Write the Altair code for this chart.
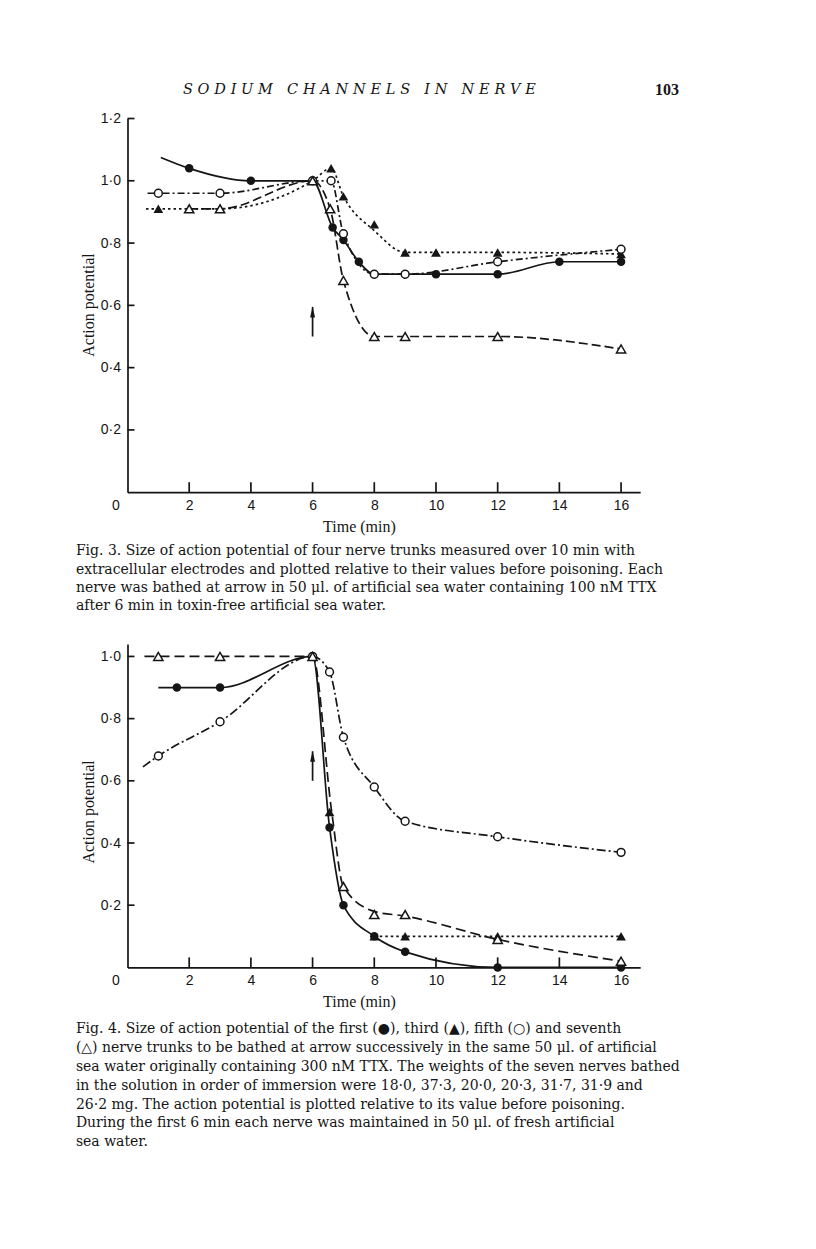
import altair as alt
import pandas as pd

INK = "#151515"

# ---------------- page header ----------------
HEADER_TITLE = "SODIUM CHANNELS IN NERVE"
PAGE_NUMBER = "103"

# ---------------- Fig. 3 ----------------
F3_X_TICKS = [0, 2, 4, 6, 8, 10, 12, 14, 16]
F3_Y_TICKS = [0.2, 0.4, 0.6, 0.8, 1.0, 1.2]
F3_X_MAX = 16.62
F3_Y_MAX = 1.2

# filled circles, solid line
F3_FC_X = [2, 4, 6, 6.65, 7, 7.5, 8, 9, 10, 12, 14, 16]
F3_FC_Y = [1.04, 1.00, 1.00, 0.85, 0.81, 0.74, 0.70, 0.70, 0.70, 0.70, 0.74, 0.74]
F3_FC_LINE_X = [1.08, 2, 4, 6, 6.65, 7, 7.5, 8, 9, 10, 12, 14, 16]
F3_FC_LINE_Y = [1.075, 1.04, 1.00, 1.00, 0.85, 0.81, 0.74, 0.70, 0.70, 0.70, 0.70, 0.74, 0.74]
# open circles, dash-dot line
F3_OC_X = [1, 3, 6, 6.6, 7, 8, 9, 12, 16]
F3_OC_Y = [0.96, 0.96, 1.00, 1.00, 0.83, 0.70, 0.70, 0.74, 0.78]
F3_OC_LINE_X = [0.65, 1, 3, 6, 6.6, 7, 8, 9, 12, 16]
F3_OC_LINE_Y = [0.96, 0.96, 0.96, 1.00, 1.00, 0.83, 0.70, 0.70, 0.74, 0.78]
# filled triangles, dotted line
F3_FT_X = [1, 3, 6, 6.6, 7, 8, 9, 10, 12, 16]
F3_FT_Y = [0.91, 0.91, 1.00, 1.04, 0.95, 0.86, 0.77, 0.77, 0.77, 0.765]
F3_FT_LINE_X = [0.6, 1, 3, 6, 6.6, 7, 8, 9, 10, 12, 16]
F3_FT_LINE_Y = [0.91, 0.91, 0.91, 1.00, 1.04, 0.95, 0.84, 0.77, 0.77, 0.77, 0.765]
# open triangles, dashed line
F3_OT_X = [2, 3, 6, 6.57, 7, 8, 9, 12, 16]
F3_OT_Y = [0.91, 0.91, 1.00, 0.91, 0.68, 0.50, 0.50, 0.50, 0.46]
F3_OT_LINE_X = [2, 3, 6, 6.57, 7, 8, 9, 12, 16]
F3_OT_LINE_Y = [0.91, 0.91, 1.00, 0.91, 0.68, 0.50, 0.50, 0.50, 0.46]
# arrow (time of poisoning)
F3_ARROW = {"x": 6, "y0": 0.50, "y1": 0.595}

F3_CAPTION = [
    "Fig. 3.  Size of action potential of four nerve trunks measured over 10 min with",
    "extracellular electrodes and plotted relative to their values before poisoning. Each",
    "nerve was bathed at arrow in 50 \u03bcl. of artificial sea water containing 100 nM TTX",
    "after 6 min in toxin-free artificial sea water.",
]

# ---------------- Fig. 4 ----------------
F4_X_TICKS = [0, 2, 4, 6, 8, 10, 12, 14, 16]
F4_Y_TICKS = [0.2, 0.4, 0.6, 0.8, 1.0]
F4_X_MAX = 16.62
F4_Y_MAX = 1.04

# first nerve: filled circles, solid
F4_FC_X = [1.6, 3, 6, 6.55, 7, 8, 9, 12, 16]
F4_FC_Y = [0.90, 0.90, 1.00, 0.45, 0.20, 0.10, 0.05, 0.0, 0.0]
F4_FC_LINE_X = [1.0, 1.6, 3, 6, 6.55, 7, 8, 9, 12, 16]
F4_FC_LINE_Y = [0.90, 0.90, 0.90, 1.00, 0.45, 0.20, 0.10, 0.05, 0.0, 0.0]
# third nerve: filled triangles, dotted
F4_FT_X = [6, 6.55, 8, 9, 12, 16]
F4_FT_Y = [1.00, 0.50, 0.10, 0.10, 0.10, 0.10]
F4_FT_LINE_X = [8, 9, 12, 16]
F4_FT_LINE_Y = [0.10, 0.10, 0.10, 0.10]
# fifth nerve: open circles, dash-dot
F4_OC_X = [1, 3, 6, 6.55, 7, 8, 9, 12, 16]
F4_OC_Y = [0.68, 0.79, 1.00, 0.95, 0.74, 0.58, 0.47, 0.42, 0.37]
F4_OC_LINE_X = [0.5, 1, 3, 6, 6.55, 7, 8, 9, 12, 16]
F4_OC_LINE_Y = [0.645, 0.68, 0.79, 1.00, 0.95, 0.74, 0.58, 0.47, 0.42, 0.37]
# seventh nerve: open triangles, dashed
F4_OT_X = [1, 3, 6, 7, 8, 9, 12, 16]
F4_OT_Y = [1.00, 1.00, 1.00, 0.26, 0.17, 0.17, 0.09, 0.02]
F4_OT_LINE_X = [0.55, 1, 3, 6, 6.62, 7, 8, 9, 12, 16]
F4_OT_LINE_Y = [1.00, 1.00, 1.00, 1.00, 0.50, 0.26, 0.18, 0.165, 0.09, 0.02]
F4_ARROW = {"x": 6, "y0": 0.60, "y1": 0.695}

F4_CAPTION = [
    "Fig. 4.   Size of action potential of the first (\u25cf), third (\u25b2), fifth (\u25cb) and seventh",
    "(\u25b3) nerve trunks to be bathed at arrow successively in the same 50 \u03bcl. of artificial",
    "sea water originally containing 300 nM TTX. The weights of the seven nerves bathed",
    "in the solution in order of immersion were 18\u00b70, 37\u00b73, 20\u00b70, 20\u00b73, 31\u00b77, 31\u00b79 and",
    "26\u00b72 mg. The action potential is plotted relative to its value before poisoning.",
    "During the first 6 min each nerve was maintained in 50 \u03bcl. of fresh artificial",
    "sea water.",
]

# ---------------- layout constants ----------------
PLOT_W = 512.7
F3_H = 373.7
F4_H = 323.4
CAP_X = -51.6
SERIF = "DejaVu Serif"
AXSERIF = "Liberation Serif"
SANS = "Liberation Sans"
ARROW_PATH = "M0,-1L0.45,1L-0.45,1Z"
LINE_W = 1.7

STYLE = {
    "fc": dict(shape="circle", open=False, size=72),
    "oc": dict(shape="circle", open=True, size=62),
    "ft": dict(shape="triangle-up", open=False, size=95),
    "ot": dict(shape="triangle-up", open=True, size=85),
}

NO_FRAME = alt.ViewBackground(strokeOpacity=0, strokeWidth=0)


def make_figure(series, arrow, x_ticks, y_ticks, x_max, y_max, height,
                y_title_y, caption, cap_top, cap_step, header=False):
    xscale = alt.Scale(domain=[0, x_max], nice=False, zero=False)
    yscale = alt.Scale(domain=[0, y_max], nice=False, zero=False)
    xaxis = alt.Axis(
        values=x_ticks, ticks=False, tickSize=0, grid=False,
        domainColor=INK, domainWidth=1.7,
        labelFont=SANS, labelFontSize=14, labelColor=INK, labelPadding=6,
        labelFlush=False, labelOverlap=False,
        labelOffset={"condition": {"test": "datum.value === 0", "value": -12}, "value": 0},
        title="Time (min)", titleFont=AXSERIF, titleFontSize=16,
        titleFontWeight="normal", titleColor=INK,
        titleX=231.4, titleY=34.3, titleBaseline="middle",
    )
    yaxis = alt.Axis(
        values=y_ticks, ticks=False, tickSize=0, grid=False,
        domainColor=INK, domainWidth=1.7,
        labelFont=SANS, labelFontSize=14, labelColor=INK, labelPadding=7,
        labelFlush=False, labelOverlap=False,
        labelExpr="replace(format(datum.value, '.1f'), '.', '\u00b7')",
        title="Action potential", titleFont=AXSERIF, titleFontSize=16,
        titleFontWeight="normal", titleColor=INK,
        titleX=-38.6, titleY=y_title_y, titleAngle=-90, titleBaseline="middle",
        titleAlign="center",
    )
    X = lambda f="x": alt.X(f"{f}:Q", scale=xscale, axis=xaxis)
    Y = lambda f="y": alt.Y(f"{f}:Q", scale=yscale, axis=yaxis)

    layers = []
    # inward tick marks
    xt = pd.DataFrame({"x": [v for v in x_ticks if v != 0]})
    layers.append(alt.Chart(xt).mark_rule(color=INK, strokeWidth=1.7).encode(
        x=X(), y=alt.value(height), y2=alt.value(height - 10)))
    yt = pd.DataFrame({"y": y_ticks})
    layers.append(alt.Chart(yt).mark_rule(color=INK, strokeWidth=1.7).encode(
        y=Y(), x=alt.value(0), x2=alt.value(7)))

    # curves
    for key, px, py, lx, ly, dash in series:
        ld = pd.DataFrame({"x": lx, "y": ly, "o": list(range(len(lx)))})
        kw = dict(interpolate="monotone", color=INK, strokeWidth=LINE_W)
        if dash:
            kw["strokeDash"] = dash
        layers.append(alt.Chart(ld).mark_line(**kw).encode(
            x=X(), y=Y(), order="o:Q"))
    # markers
    for key, px, py, lx, ly, dash in series:
        st = STYLE[key]
        pdf = pd.DataFrame({"x": px, "y": py})
        if st["open"]:
            m = alt.Chart(pdf).mark_point(shape=st["shape"], filled=True, fill="white",
                                          stroke=INK, strokeWidth=1.5, size=st["size"],
                                          opacity=1)
        else:
            m = alt.Chart(pdf).mark_point(shape=st["shape"], filled=True, fill=INK,
                                          strokeWidth=0, size=st["size"], opacity=1)
        layers.append(m.encode(x=X(), y=Y()))

    # arrow
    ad = pd.DataFrame({"x": [arrow["x"]], "y": [arrow["y0"]], "y2": [arrow["y1"]]})
    layers.append(alt.Chart(ad).mark_rule(color=INK, strokeWidth=1.7).encode(
        x=X(), y=Y(), y2="y2:Q"))
    layers.append(alt.Chart(ad).mark_point(shape=ARROW_PATH, filled=True, fill=INK,
                                           strokeWidth=0, size=120, opacity=1).encode(
        x=X(), y=Y("y2"), yOffset=alt.value(5)))

    main = alt.layer(*layers)

    n = len(caption)
    cap_df = pd.DataFrame({"i": list(range(n)), "t": caption})
    cap = alt.Chart(cap_df).mark_text(
        align="left", baseline="middle", font=SERIF, fontSize=14, color=INK
    ).encode(
        x=alt.value(CAP_X),
        y=alt.Y("i:Q", axis=None,
                scale=alt.Scale(domain=[0, n - 1], range=[cap_top, cap_top + cap_step * (n - 1)])),
        text="t:N",
    )
    parts = [main, cap]
    if header:
        spaced = "\u2004 \u2004".join("\u2004".join(w) for w in HEADER_TITLE.split())
        hd = pd.DataFrame({"t": [spaced]})
        parts.append(alt.Chart(hd).mark_text(
            align="center", baseline="middle", font=SERIF, fontSize=14.5,
            fontStyle="italic", color=INK).encode(
            x=alt.value(231.9), y=alt.value(-28.5), text="t:N"))
        pn = pd.DataFrame({"t": [PAGE_NUMBER]})
        parts.append(alt.Chart(pn).mark_text(
            align="center", baseline="middle", font=AXSERIF, fontSize=16,
            fontWeight="bold", color=INK).encode(
            x=alt.value(539.4), y=alt.value(-28.5), text="t:N"))
    return alt.layer(*parts).resolve_scale(y="independent").properties(
        width=PLOT_W, height=height, view=NO_FRAME)


F3_SERIES = [
    ("fc", F3_FC_X, F3_FC_Y, F3_FC_LINE_X, F3_FC_LINE_Y, None),
    ("ft", F3_FT_X, F3_FT_Y, F3_FT_LINE_X, F3_FT_LINE_Y, [2.5, 3]),
    ("oc", F3_OC_X, F3_OC_Y, F3_OC_LINE_X, F3_OC_LINE_Y, [7, 3, 2, 3]),
    ("ot", F3_OT_X, F3_OT_Y, F3_OT_LINE_X, F3_OT_LINE_Y, [9, 4]),
]
F4_SERIES = [
    ("fc", F4_FC_X, F4_FC_Y, F4_FC_LINE_X, F4_FC_LINE_Y, None),
    ("ft", F4_FT_X, F4_FT_Y, F4_FT_LINE_X, F4_FT_LINE_Y, [2.5, 3]),
    ("oc", F4_OC_X, F4_OC_Y, F4_OC_LINE_X, F4_OC_LINE_Y, [9, 3, 2, 3]),
    ("ot", F4_OT_X, F4_OT_Y, F4_OT_LINE_X, F4_OT_LINE_Y, [10, 5]),
]

fig3 = make_figure(F3_SERIES, F3_ARROW, F3_X_TICKS, F3_Y_TICKS, F3_X_MAX, F3_Y_MAX,
                   F3_H, 186, F3_CAPTION, 432.5, 18.5, header=True)
fig4 = make_figure(F4_SERIES, F4_ARROW, F4_X_TICKS, F4_Y_TICKS, F4_X_MAX, F4_Y_MAX,
                   F4_H, 167.4, F4_CAPTION, 385.4, 18.8)

chart = alt.vconcat(
    fig3, fig4, spacing=30.5,
    padding={"left": 67.5, "top": 73.5, "right": 10, "bottom": 10},
).configure_view(strokeOpacity=0, strokeWidth=0).configure(background="white")

chart.save("out.html", embed_options={"renderer": "svg", "actions": False})
